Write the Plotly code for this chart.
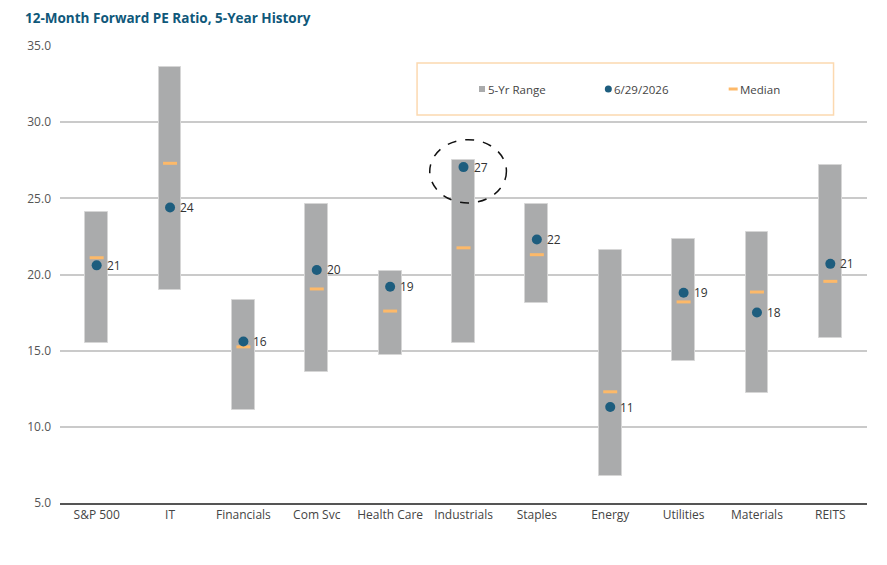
import plotly.graph_objects as go

categories = ["S&P 500", "IT", "Financials", "Com Svc", "Health Care", "Industrials",
              "Staples", "Energy", "Utilities", "Materials", "REITS"]
range_high = [24.1, 33.6, 18.3, 24.6, 20.2, 27.5, 24.6, 21.6, 22.3, 22.8, 27.2]
range_low = [15.5, 19.0, 11.1, 13.6, 14.7, 15.5, 18.1, 6.8, 14.3, 12.2, 15.8]
current = [20.6, 24.4, 15.6, 20.3, 19.2, 27.05, 22.3, 11.3, 18.8, 17.5, 20.7]
median = [21.1, 27.3, 15.25, 19.05, 17.6, 21.75, 21.3, 12.3, 18.2, 18.85, 19.55]
labels = ["21", "24", "16", "20", "19", "27", "22", "11", "19", "18", "21"]
y_ticks = [5, 10, 15, 20, 25, 30, 35]

GRAY = "#AAABAC"
BLUE = "#1D5D7E"
ORANGE = "#FDB969"
FONT = "Open Sans"

fig = go.Figure()
fig.add_trace(go.Bar(
    x=categories, y=[h - l for h, l in zip(range_high, range_low)], base=range_low,
    width=0.31, marker=dict(color=GRAY, line=dict(color="#D6D6D6", width=1)),
    name="5-Yr Range", showlegend=False, hoverinfo="skip"))
fig.add_trace(go.Scatter(
    x=categories, y=median, mode="markers",
    marker=dict(symbol="line-ew", size=10, line=dict(color=ORANGE, width=3)),
    name="Median", showlegend=False))
fig.add_trace(go.Scatter(
    x=categories, y=current, mode="markers",
    marker=dict(color=BLUE, size=10), name="6/29/2026", showlegend=False))
for c, v, t in zip(categories, current, labels):
    fig.add_annotation(x=c, y=v, text=t, showarrow=False, xanchor="left", yanchor="middle",
                       xshift=8, font=dict(family=FONT, size=12, color="#333333"))

# dashed ellipse highlighting Industrials
fig.add_shape(type="circle", xref="x", yref="y", x0=4.54, x1=5.585, y0=24.7, y1=28.85,
              line=dict(color="#111111", width=1.5, dash="dash"))

# custom legend box
fig.add_shape(type="rect", xref="paper", yref="paper",
              x0=(417 - 59.5) / 808, x1=(834 - 59.5) / 808,
              y0=(503 - 115) / 457, y1=(503 - 63) / 457,
              line=dict(color="#FCD9B0", width=1.5), fillcolor="white")
ly = (503 - 89) / 457
fig.add_shape(type="rect", xref="paper", yref="paper",
              x0=(479 - 59.5) / 808, x1=(485 - 59.5) / 808,
              y0=ly - 3 / 457, y1=ly + 3 / 457, line=dict(width=0), fillcolor=GRAY)
fig.add_shape(type="circle", xref="paper", yref="paper",
              x0=(605 - 59.5) / 808, x1=(612 - 59.5) / 808,
              y0=ly - 3.5 / 457, y1=ly + 3.5 / 457, line=dict(width=0), fillcolor=BLUE)
fig.add_shape(type="line", xref="paper", yref="paper",
              x0=(729 - 59.5) / 808, x1=(738 - 59.5) / 808,
              y0=ly, y1=ly, line=dict(color=ORANGE, width=3))
for xpix, txt in [(486, "5-Yr Range"), (612, "6/29/2026"), (738, "Median")]:
    fig.add_annotation(xref="paper", yref="paper", x=(xpix - 59.5) / 808, y=ly,
                       text=txt, showarrow=False, xanchor="left", yanchor="middle",
                       font=dict(family=FONT, size=11.5, color="#444444"))

fig.update_layout(
    width=887, height=565,
    margin=dict(l=59.5, r=19.5, t=46, b=62),
    paper_bgcolor="white", plot_bgcolor="white",
    bargap=0, showlegend=False,
    title=dict(text="<b>12-Month Forward PE Ratio, 5-Year History</b>",
               x=25 / 887, xanchor="left", y=1 - 18 / 565, yanchor="middle",
               font=dict(family=FONT, size=13.5, color="#0F587A")),
    font=dict(family=FONT, size=12, color="#555555"),
)
fig.update_yaxes(range=[5, 35], tickvals=y_ticks, tickformat=".1f",
                 showgrid=True, gridcolor="#CACACA", gridwidth=1.5,
                 zeroline=False, ticks="", ticklabelstandoff=8,
                 tickfont=dict(family=FONT, size=12, color="#555555"))
fig.update_xaxes(type="category", range=[-0.5, 10.5], showline=True, linecolor="#555555",
                 linewidth=1.5, ticks="", showgrid=False,
                 tickfont=dict(family=FONT, size=12, color="#444444"))

fig.write_html("out.html")
